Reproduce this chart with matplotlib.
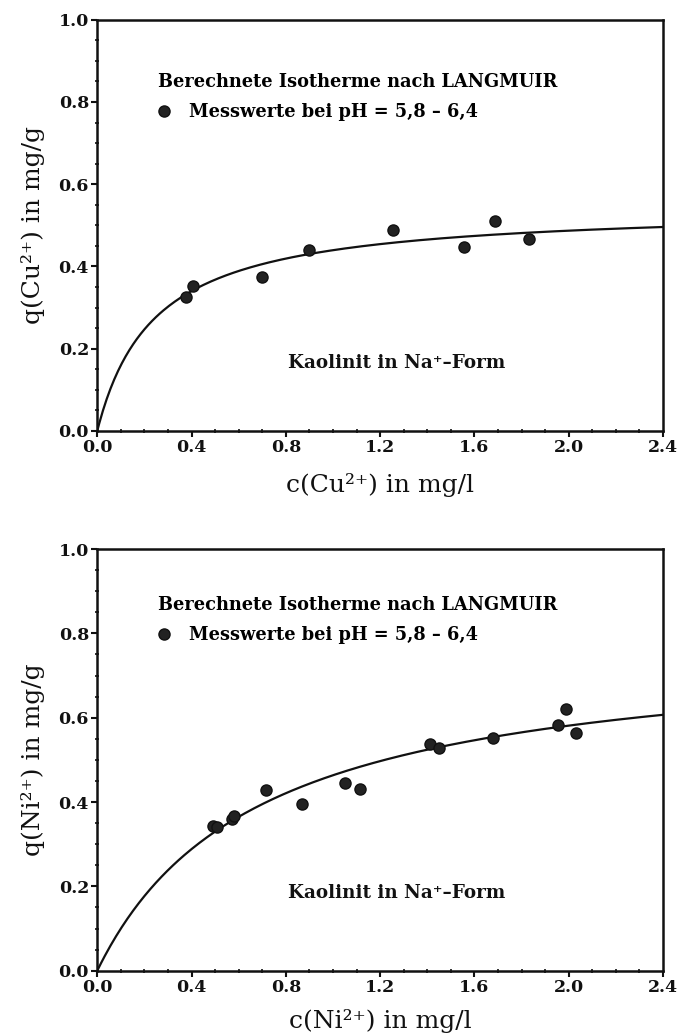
import numpy as np
import matplotlib
matplotlib.use("Agg")
import matplotlib.pyplot as plt
from matplotlib.ticker import MultipleLocator, FormatStrFormatter

# ------------------------------------------------------------
# Data
# ------------------------------------------------------------

cu_c = [0.377, 0.407, 0.70, 0.90, 1.255, 1.556, 1.688, 1.832]
cu_q = [0.326, 0.353, 0.375, 0.440, 0.489, 0.448, 0.511, 0.467]
cu_qmax, cu_K = 0.546, 4.13

ni_c = [0.49, 0.51, 0.57, 0.58, 0.717, 0.87, 1.05, 1.115, 1.41, 1.45, 1.68, 1.955, 1.99, 2.03]
ni_q = [0.344, 0.340, 0.360, 0.368, 0.429, 0.396, 0.445, 0.431, 0.538, 0.528, 0.552, 0.583, 0.621, 0.564]
ni_qmax, ni_K = 0.779, 1.47

x_ticks = [0.0, 0.4, 0.8, 1.2, 1.6, 2.0, 2.4]
y_ticks = [0.0, 0.2, 0.4, 0.6, 0.8, 1.0]

title_line = "Berechnete Isotherme nach LANGMUIR"
point_label = "Messwerte bei pH = 5,8 \u2013 6,4"
sample_label = "Kaolinit in Na\u207a\u2013Form"

# ion, data, fit, legend anchor y, sample label y, xlabel pad
panels = [
    ("Cu", cu_c, cu_q, cu_qmax, cu_K, 0.871, 0.165, 12),
    ("Ni", ni_c, ni_q, ni_qmax, ni_K, 0.889, 0.185, 9),
]

# ------------------------------------------------------------
# Figure
# ------------------------------------------------------------

fig = plt.figure(figsize=(6.8, 10.36), dpi=100)
axes = [fig.add_axes([0.143, 0.584, 0.832, 0.397]),
        fig.add_axes([0.143, 0.063, 0.832, 0.407])]

bold = dict(family="DejaVu Serif", weight="bold")
ink = "#111111"

for ax, (ion, c, q, qmax, K, leg_y, lab_y, xpad) in zip(axes, panels):
    cc = np.linspace(0, 2.4, 300)
    ax.plot(cc, qmax * K * cc / (1 + K * cc), color=ink, lw=1.6, zorder=2)
    pts, = ax.plot(c, q, "o", ms=8, color="#222222", mec=ink, zorder=3)

    ax.set_xlim(0, 2.4)
    ax.set_ylim(0, 1.0)
    ax.set_xticks(x_ticks)
    ax.set_yticks(y_ticks)
    ax.xaxis.set_minor_locator(MultipleLocator(0.1))
    ax.yaxis.set_minor_locator(MultipleLocator(0.05))
    ax.xaxis.set_major_formatter(FormatStrFormatter("%.1f"))
    ax.yaxis.set_major_formatter(FormatStrFormatter("%.1f"))
    ax.tick_params(which="major", direction="out", length=4, width=1.5,
                   color=ink, pad=2)
    ax.tick_params(which="minor", direction="inout", length=3, width=1.2, color=ink)
    for lab in ax.get_xticklabels() + ax.get_yticklabels():
        lab.set_fontfamily("DejaVu Serif")
        lab.set_fontweight("bold")
        lab.set_fontsize(12.5)
        lab.set_color(ink)
    for sp in ax.spines.values():
        sp.set_linewidth(1.8)
        sp.set_color(ink)

    ax.set_xlabel("c(%s\u00b2\u207a) in mg/l" % ion, family="DejaVu Serif",
                  fontsize=18, color=ink, labelpad=xpad)
    ax.set_ylabel("q(%s\u00b2\u207a) in mg/g" % ion, family="DejaVu Serif",
                  fontsize=18, color=ink, labelpad=10)

    leg = ax.legend([pts], [point_label], title=title_line, loc="upper left",
                    bbox_to_anchor=(0.108, leg_y), frameon=False, alignment="left",
                    handlelength=0.6, handletextpad=1.1, borderpad=0, borderaxespad=0,
                    prop=dict(size=12.8, **bold),
                    title_fontproperties=dict(size=12.8, **bold))
    leg._legend_box.sep = 9

    ax.text(1.27, lab_y, sample_label, ha="center", va="center", fontsize=13.2,
            color=ink, **bold)

fig.savefig("out.png", dpi=100)
